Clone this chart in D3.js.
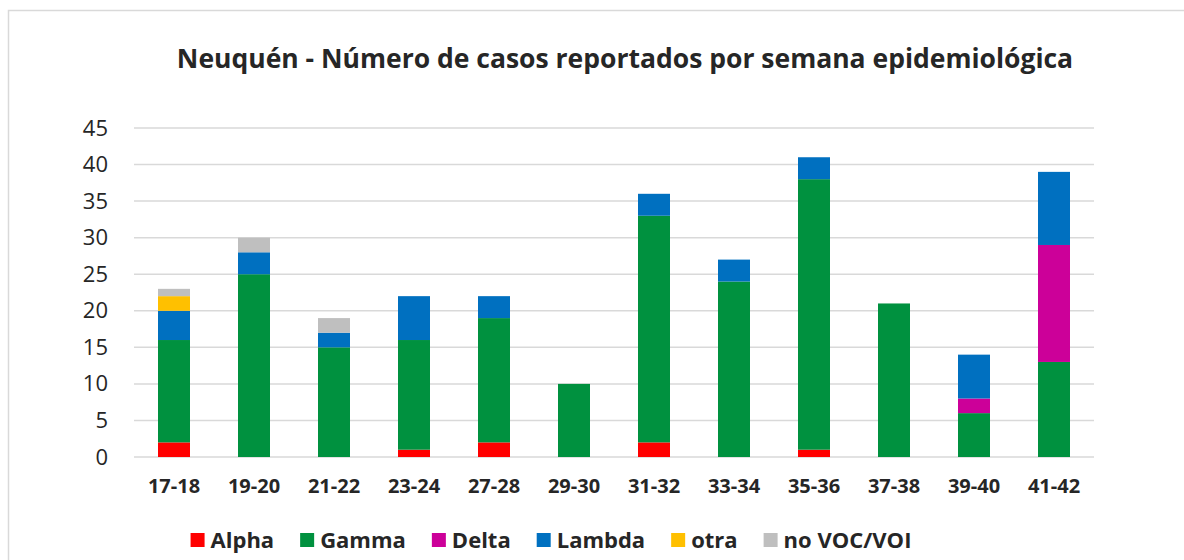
<!DOCTYPE html>
<html>
<head>
<meta charset="utf-8">
<script src="https://cdn.jsdelivr.net/npm/d3@7"></script>
<style>
    body { margin: 0; background: #fff; }
    svg text { font-family: "Open Sans", sans-serif; fill: #262626; }
</style>
</head>
<body>
<div class="visHolder"></div>
<script>
const weeks = ["17-18", "19-20", "21-22", "23-24", "27-28", "29-30", "31-32", "33-34", "35-36", "37-38", "39-40", "41-42"];
const variants = ["Alpha", "Gamma", "Delta", "Lambda", "otra", "no VOC/VOI"];
const colors = ["#ff0000", "#00913f", "#cc0099", "#0070c0", "#ffc000", "#bfbfbf"];

const alpha = [2, 0, 0, 1, 2, 0, 2, 0, 1, 0, 0, 0];
const gamma = [14, 25, 15, 15, 17, 10, 31, 24, 37, 21, 6, 13];
const delta = [0, 0, 0, 0, 0, 0, 0, 0, 0, 0, 2, 16];
const lambda = [4, 3, 2, 6, 3, 0, 3, 3, 3, 0, 6, 10];
const otra = [2, 0, 0, 0, 0, 0, 0, 0, 0, 0, 0, 0];
const noVoc = [1, 2, 2, 0, 0, 0, 0, 0, 0, 0, 0, 0];
const yTicks = [0, 5, 10, 15, 20, 25, 30, 35, 40, 45];

const series = [alpha, gamma, delta, lambda, otra, noVoc];

const w = 1184;
const h = 560;
const margin = { top: 128, right: 90, bottom: 103, left: 134 };

const rows = weeks.map((wk, i) => {
    const row = { week: wk };
    variants.forEach((v, j) => { row[v] = series[j][i]; });
    return row;
});

const stacked = d3.stack().keys(variants)(rows);

const xScale = d3.scaleBand()
    .domain(weeks)
    .range([margin.left, w - margin.right])
    .paddingInner(0.6)
    .paddingOuter(0.3);

const yScale = d3.scaleLinear()
    .domain([0, 45])
    .range([h - margin.bottom, margin.top]);

const svg = d3.select(".visHolder")
    .append("svg")
    .attr("width", w)
    .attr("height", h);

// chart frame
svg.append("rect")
    .attr("x", 8.5)
    .attr("y", 10.5)
    .attr("width", w + 10)
    .attr("height", h + 10)
    .attr("fill", "none")
    .attr("stroke", "#d9d9d9")
    .attr("stroke-width", 1.5);

svg.append("text")
    .attr("x", 625)
    .attr("y", 68)
    .attr("text-anchor", "middle")
    .style("font-size", "26.5px")
    .style("font-weight", "bold")
    .text("Neuquén - Número de casos reportados por semana epidemiológica");

// gridlines
svg.append("g")
    .selectAll("line")
    .data(yTicks)
    .enter()
    .append("line")
    .attr("x1", margin.left)
    .attr("x2", w - margin.right)
    .attr("y1", d => yScale(d))
    .attr("y2", d => yScale(d))
    .attr("stroke", "#d9d9d9")
    .attr("stroke-width", 1.5);

const yAxis = d3.axisLeft(yScale)
    .tickValues(yTicks)
    .tickSize(0)
    .tickPadding(26);

svg.append("g")
    .attr("id", "y-axis")
    .attr("transform", `translate(${margin.left}, 0)`)
    .call(yAxis)
    .call(g => g.select(".domain").remove())
    .selectAll("text")
    .style("font-size", "22px")
    .style("font-family", "'Open Sans', sans-serif")
    .attr("fill", "#262626");

svg.append("g")
    .selectAll("g")
    .data(stacked)
    .enter()
    .append("g")
    .attr("fill", (d, i) => colors[i])
    .selectAll("rect")
    .data(d => d)
    .enter()
    .append("rect")
    .attr("x", d => xScale(d.data.week))
    .attr("y", d => yScale(d[1]))
    .attr("width", xScale.bandwidth())
    .attr("height", d => yScale(d[0]) - yScale(d[1]));

const xAxis = d3.axisBottom(xScale)
    .tickSize(0)
    .tickPadding(22);

svg.append("g")
    .attr("id", "x-axis")
    .attr("transform", `translate(0, ${h - margin.bottom})`)
    .call(xAxis)
    .call(g => g.select(".domain").remove())
    .selectAll("text")
    .style("font-size", "20px")
    .style("font-weight", "bold")
    .style("font-family", "'Open Sans', sans-serif")
    .attr("fill", "#262626");

// legend
const legend = svg.append("g");
let lx = 0;
const gap = 26;
variants.forEach((v, i) => {
    const item = legend.append("g").attr("transform", `translate(${lx}, 0)`);
    item.append("rect")
        .attr("x", 0)
        .attr("y", -7)
        .attr("width", 14)
        .attr("height", 14)
        .attr("fill", colors[i]);
    const t = item.append("text")
        .attr("x", 20)
        .attr("y", 8)
        .style("font-size", "22px")
        .style("font-weight", "bold")
        .text(v);
    lx += 20 + t.node().getComputedTextLength() + gap;
});
lx -= gap;
legend.attr("transform", `translate(${551 - lx / 2}, 540)`);
</script>
</body>
</html>
